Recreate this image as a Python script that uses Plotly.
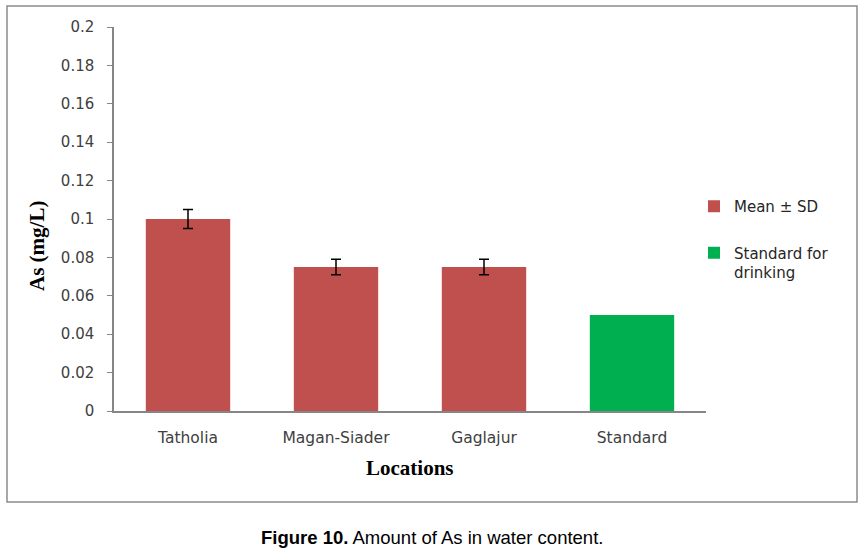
import plotly.graph_objects as go

categories = ["Tatholia", "Magan-Siader", "Gaglajur", "Standard"]
sample_locations = ["Tatholia", "Magan-Siader", "Gaglajur"]
mean_values = [0.100, 0.075, 0.075]
sd_values = [0.005, 0.004, 0.004]
standard_location = ["Standard"]
standard_values = [0.05]
y_ticks = [0, 0.02, 0.04, 0.06, 0.08, 0.1, 0.12, 0.14, 0.16, 0.18, 0.2]

W, H = 864, 554
L, R, T, B = 114, 158, 27, 143
pw, ph = W - L - R, H - T - B

def px_x(x):
    return (x - L) / pw

def px_y(y):
    return (H - B - y) / ph

fig = go.Figure()
fig.add_trace(go.Bar(
    x=sample_locations, y=mean_values, name="Mean ± SD",
    marker=dict(color="#C0504D", line=dict(width=0)),
    error_y=dict(type="data", array=sd_values, visible=True,
                 color="#000000", thickness=1.5, width=5),
    legendgroup="a",
))
fig.add_trace(go.Bar(
    x=standard_location, y=standard_values, name="Standard for<br>drinking",
    marker=dict(color="#00B050", line=dict(width=0)),
    legendgroup="b",
))

tick_font = dict(family="DejaVu Sans", size=15, color="#404040")

fig.update_layout(
    width=W, height=H,
    margin=dict(l=L, r=R, t=T, b=B),
    paper_bgcolor="white", plot_bgcolor="white",
    barmode="overlay", bargap=0.43,
    showlegend=True,
    legend=dict(x=px_x(694), y=px_y(190), xanchor="left", yanchor="top",
                font=dict(family="DejaVu Sans", size=15, color="#262626"),
                tracegroupgap=24, bgcolor="rgba(0,0,0,0)", itemwidth=30,
                valign="top"),
    xaxis=dict(categoryorder="array", categoryarray=categories,
               showline=True, linecolor="#868686", linewidth=1.5,
               ticks="", showgrid=False, zeroline=False,
               tickfont=dict(family="DejaVu Sans", size=15.5, color="#404040"),
               ticklabelstandoff=12),
    yaxis=dict(range=[0, 0.2], tickvals=y_ticks, tickformat="~g",
               showline=True, linecolor="#868686", linewidth=1.5,
               ticks="outside", ticklen=5, tickcolor="#868686", tickwidth=1,
               showgrid=False, zeroline=False, tickfont=tick_font,
               ticklabelstandoff=10),
    shapes=[dict(type="rect", xref="paper", yref="paper",
                 x0=px_x(7), x1=px_x(857), y0=px_y(502), y1=px_y(6),
                 line=dict(color="#8C8C8C", width=1.5), fillcolor="rgba(0,0,0,0)",
                 layer="below")],
    annotations=[
        dict(text="<b>As (mg/L)</b>", xref="paper", yref="paper",
             x=px_x(37), y=px_y(246), textangle=-90, showarrow=False,
             font=dict(family="Liberation Serif", size=21, color="#000000"),
             xanchor="center", yanchor="middle"),
        dict(text="<b>Locations</b>", xref="paper", yref="paper",
             x=px_x(410), y=px_y(468), showarrow=False,
             font=dict(family="Liberation Serif", size=21, color="#000000"),
             xanchor="center", yanchor="middle"),
        dict(text="<b>Figure 10.</b> Amount of As in water content.",
             xref="paper", yref="paper", x=px_x(432), y=px_y(537),
             showarrow=False,
             font=dict(family="Liberation Sans", size=18.5, color="#000000"),
             xanchor="center", yanchor="middle"),
    ],
)

fig.write_html("out.html")
